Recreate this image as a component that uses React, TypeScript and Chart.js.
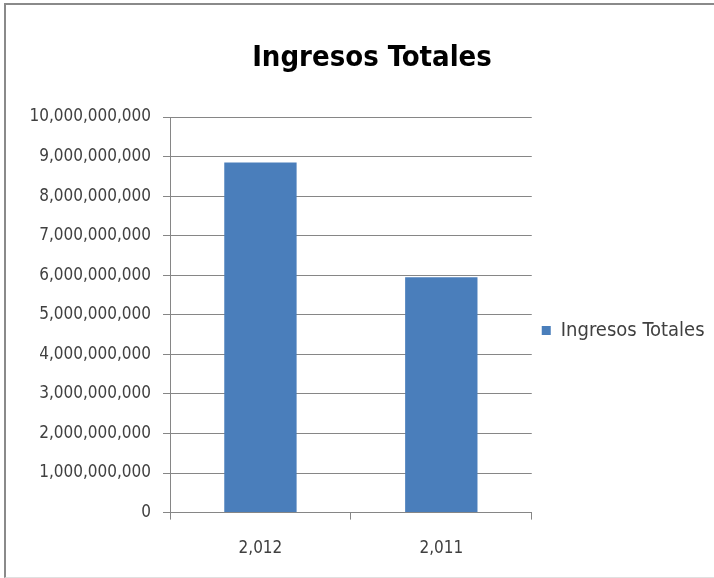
import React, { useEffect, useRef } from "react";
import { Chart, registerables } from "chart.js";

Chart.register(...registerables);

const categories = ["2,012", "2,011"];
const seriesName = "Ingresos Totales";
const seriesValues = [8850000000, 5950000000];
const yMin = 0;
const yMax = 10000000000;
const yStep = 1000000000;
const chartTitle = "Ingresos Totales";

const FONT = "'Liberation Sans Narrow', 'Arial Narrow', 'DejaVu Sans Condensed', sans-serif";

const titlePlugin = {
  id: "offsetTitle",
  afterLayout(chart: any) {
    if (chart.legend) {
      chart.legend.top -= 17;
      chart.legend.bottom -= 17;
    }
  },
  afterDraw(chart: any) {
    const ctx = chart.ctx;
    ctx.save();
    ctx.font = `bold 29px ${FONT}`;
    ctx.fillStyle = "#000000";
    ctx.textAlign = "center";
    ctx.textBaseline = "middle";
    ctx.fillText(chartTitle, 372, 58);
    ctx.restore();
  },
};

export default function App() {
  const ref = useRef<HTMLCanvasElement | null>(null);

  useEffect(() => {
    document.body.style.margin = "0";
    const canvas = ref.current;
    if (!canvas) return;
    const chart = new Chart(canvas, {
      type: "bar",
      data: {
        labels: categories,
        datasets: [
          {
            label: seriesName,
            data: seriesValues,
            backgroundColor: "#4A7EBB",
            borderWidth: 0,
            barPercentage: 0.4,
            categoryPercentage: 1,
          },
        ],
      },
      plugins: [titlePlugin],
      options: {
        animation: false,
        responsive: false,
        maintainAspectRatio: false,
        layout: { padding: { left: 0, right: 5, top: 117, bottom: 0 } },
        plugins: {
          title: { display: false },
          legend: {
            position: "right",
            labels: {
              color: "#404040",
              font: { family: FONT, size: 20 },
              usePointStyle: true,
              pointStyle: "rect",
              boxWidth: 9,
              boxHeight: 9,
              padding: 10,
            },
          },
          tooltip: { enabled: false },
        },
        scales: {
          x: {
            offset: true,
            grid: {
              offset: true,
              drawOnChartArea: false,
              drawTicks: true,
              tickLength: 7,
              color: "#868686",
            },
            border: { color: "#868686", width: 1 },
            ticks: {
              color: "#404040",
              font: { family: FONT, size: 17 },
              padding: 19,
            },
          },
          y: {
            min: yMin,
            max: yMax,
            afterFit: (scale: any) => {
              scale.width = 170;
            },
            grid: {
              color: "#868686",
              drawTicks: true,
              tickLength: 7,
            },
            border: { color: "#868686", width: 1 },
            ticks: {
              stepSize: yStep,
              color: "#404040",
              font: { family: FONT, size: 17 },
              padding: 12,
              callback: (v: any) => Number(v).toLocaleString("en-US"),
            },
          },
        },
      },
    });
    return () => chart.destroy();
  }, []);

  return (
    <div
      style={{
        position: "relative",
        width: 714,
        height: 578,
        background: "#ffffff",
        overflow: "hidden",
      }}
    >
      <canvas ref={ref} width={714} height={578} style={{ display: "block" }} />
      <div
        style={{
          position: "absolute",
          left: 4,
          top: 3,
          width: 712,
          height: 572,
          borderLeft: "2px solid #8a8a8a",
          borderTop: "2px solid #8a8a8a",
          borderBottom: "1px solid #e0e0e0",
          pointerEvents: "none",
        }}
      />
    </div>
  );
}
